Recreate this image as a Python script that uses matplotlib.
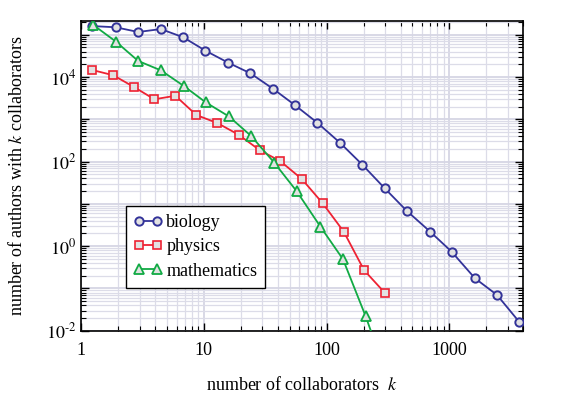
import matplotlib
matplotlib.use("Agg")
import matplotlib.pyplot as plt
from matplotlib.ticker import LogLocator, FixedLocator, NullFormatter, FuncFormatter
import math

plt.rcParams['font.family'] = ['Liberation Serif', 'DejaVu Serif']
plt.rcParams['mathtext.fontset'] = 'stix'

bio_k = [1.24, 1.92, 2.92, 4.47, 6.8, 10.3, 15.8, 24, 36.5, 54.8, 84, 129, 195, 297, 448, 697, 1042, 1614, 2443, 3715]
bio_n = [1.6e5, 1.5e5, 1.16e5, 1.36e5, 8.7e4, 4.2e4, 2.18e4, 1.22e4, 5.3e3, 2.2e3, 830, 276, 85, 23.4, 6.9, 2.2, 0.74, 0.174, 0.07, 0.016]

phy_k = [1.24, 1.83, 2.7, 3.96, 5.87, 8.7, 12.9, 19.2, 28.6, 42, 62.8, 93, 138, 202, 300]
phy_n = [1.46e4, 1.1e4, 5.8e3, 2.97e3, 3.6e3, 1.26e3, 815, 432, 185, 102, 38.8, 10.3, 2.2, 0.27, 0.077]

math_k = [1.26, 1.92, 2.92, 4.46, 6.84, 10.4, 16, 24.3, 37.5, 57, 89, 136, 208, 300]
math_n = [1.7e5, 6.9e4, 2.4e4, 1.44e4, 6.2e3, 2.5e3, 1.17e3, 403, 94, 20, 2.9, 0.49, 0.022, 1.1e-3]

x_ticks = [1, 10, 100, 1000]
y_ticks = [1e-2, 1e-1, 1, 10, 1e2, 1e3, 1e4, 1e5]

fig = plt.figure(figsize=(5.81, 3.98), dpi=100)
ax = fig.add_axes([0.1394, 0.1691, 0.7613, 0.7779])

face = '#e2e2e2'
ax.plot(bio_k, bio_n, '-o', color='#333399', lw=1.3, ms=6, mfc=face, mew=1.4, label='biology', zorder=3)
ax.plot(phy_k, phy_n, '-s', color='#ee2233', lw=1.3, ms=6, mfc=face, mew=1.2, label='physics', zorder=3)
ax.plot(math_k, math_n, '-^', color='#11aa44', lw=1.3, ms=6.5, mfc=face, mew=1.3, label='mathematics', zorder=3)

ax.set_xscale('log')
ax.set_yscale('log')
ax.set_xlim(1, 4000)
ax.set_ylim(1e-2, 2.1e5)

ax.xaxis.set_major_locator(FixedLocator(x_ticks))
ax.xaxis.set_minor_locator(LogLocator(base=10, subs=range(2, 10), numticks=20))
ax.xaxis.set_minor_formatter(NullFormatter())
ax.xaxis.set_major_formatter(FuncFormatter(lambda v, p: '%d' % v))

ax.yaxis.set_major_locator(FixedLocator(y_ticks))
ax.yaxis.set_minor_locator(LogLocator(base=10, subs=range(2, 10), numticks=20))
ax.yaxis.set_minor_formatter(NullFormatter())

def yfmt(v, p):
    e = int(round(math.log10(v)))
    if e % 2 == 0:
        if e < 0:
            return r'$10^{\text{-}%d}$' % (-e)
        return r'$10^{%d}$' % e
    return ''
ax.yaxis.set_major_formatter(FuncFormatter(yfmt))

ax.tick_params(which='both', direction='in', top=True, right=True, labelsize=13, colors='black')
ax.tick_params(which='major', length=6, width=1)
ax.tick_params(which='minor', length=3.5, width=0.8)
ax.tick_params(axis='x', pad=8)

ax.grid(True, which='major', color='#d6d6e4', lw=1.3, zorder=0)
ax.grid(True, which='minor', color='#dcdce8', lw=0.9, zorder=0)
ax.set_axisbelow(True)
for s in ax.spines.values():
    s.set_linewidth(1.2)

ax.set_xlabel(r'number of collaborators  $\it{k}$', fontsize=13)
ax.xaxis.set_label_coords(0.5, -0.145)
ax.set_ylabel(r'number of authors with $\it{k}$ collaborators', fontsize=13)
ax.yaxis.set_label_coords(-0.124, 0.5)

leg = ax.legend(loc='lower left', bbox_to_anchor=(0.101, 0.139), numpoints=2,
                fontsize=13, frameon=True, fancybox=False, edgecolor='black',
                borderaxespad=0, handlelength=1.6, handletextpad=0.2, labelspacing=0.4,
                borderpad=0.45)
leg.get_frame().set_linewidth(1.0)
leg.get_frame().set_alpha(1)

fig.savefig('out.png', dpi=100)
